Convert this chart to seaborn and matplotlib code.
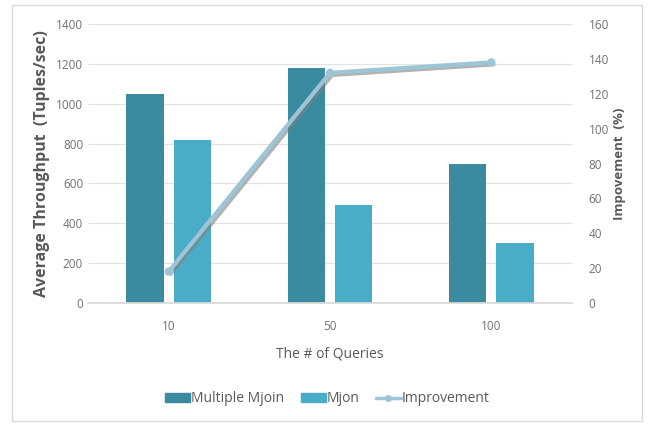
import matplotlib
matplotlib.use("Agg")
import matplotlib.pyplot as plt
import matplotlib.patheffects as pe
from matplotlib.patches import Rectangle
from matplotlib.lines import Line2D
from matplotlib.patches import Patch
import seaborn as sns
import pandas as pd

queries = ["10", "50", "100"]
multiple_mjoin = [1050, 1180, 700]
mjon = [820, 490, 300]
improvement = [18, 132, 138]

dark = "#3a8aa0"
light = "#4aadc7"
line_col = "#9cc6d8"
grey = "#595959"

df = pd.DataFrame({
    "queries": queries * 2,
    "throughput": multiple_mjoin + mjon,
    "series": ["Multiple Mjoin"] * 3 + ["Mjon"] * 3,
})

sns.set_theme(style="white")
plt.rcParams["font.family"] = ["Open Sans", "DejaVu Sans"]

fig = plt.figure(figsize=(6.48, 4.24), dpi=100)
ax = fig.add_axes([88 / 648, 1 - 303 / 424, (572 - 88) / 648, (303 - 24) / 424])

sns.barplot(data=df, x="queries", y="throughput", hue="series",
            palette=[dark, light], width=0.585, gap=0.21,
            saturation=1, ax=ax, legend=False, linewidth=0, edgecolor="none")
ax.set_xlim(-0.5, 2.5)
ax.set_ylim(0, 1400)
ax.set_yticks(range(0, 1401, 200))
ax.yaxis.grid(True, color="#e3e3e3", linewidth=0.9)
ax.set_axisbelow(True)
for s in ["top", "right", "left"]:
    ax.spines[s].set_visible(False)
ax.spines["bottom"].set_color("#d9d9d9")
ax.tick_params(axis="both", length=0, colors="#707070", labelsize=8.5)
ax.tick_params(axis="x", pad=12)
ax.set_xlabel("The # of Queries", fontsize=10, color=grey, labelpad=10)
ax.set_ylabel("Average Throughput  (Tuples/sec)", fontsize=11.5, color=grey,
              fontweight="bold", labelpad=4)

ax2 = ax.twinx()
sns.lineplot(x=[0, 1, 2], y=improvement, ax=ax2, color=line_col, linewidth=3,
             marker="o", markersize=6, markeredgewidth=0, legend=False,
             path_effects=[pe.SimpleLineShadow(offset=(1.5, -1.5), shadow_color="#808080", alpha=0.6),
                           pe.Normal()])
ax2.set_ylim(0, 160)
ax2.set_yticks(range(0, 161, 20))
for s in ["top", "right", "left", "bottom"]:
    ax2.spines[s].set_visible(False)
ax2.tick_params(axis="y", length=0, colors="#707070", labelsize=8.5, pad=12)
ax2.set_ylabel("Impovement  (%)", fontsize=9.5, color=grey, fontweight="bold",
               labelpad=3)

handles = [Patch(color=dark, label="Multiple Mjoin"),
           Patch(color=light, label="Mjon"),
           Line2D([0], [0], color=line_col, lw=2.5, marker="o", markersize=4,
                  label="Improvement")]
leg = fig.legend(handles=handles, loc="center", bbox_to_anchor=(0.505, 1 - 399 / 424),
                 ncol=3, frameon=False, fontsize=10, handlelength=1.8,
                 handletextpad=0.05, columnspacing=1.2, handleheight=0.6)
for t in leg.get_texts():
    t.set_color(grey)

fig.patches.append(Rectangle((12 / 648, 1 - 421 / 424), (642 - 12) / 648, (421 - 5) / 424,
                             transform=fig.transFigure, fill=False,
                             edgecolor="#d9d9d9", linewidth=1))

fig.savefig("out.png", dpi=100)
